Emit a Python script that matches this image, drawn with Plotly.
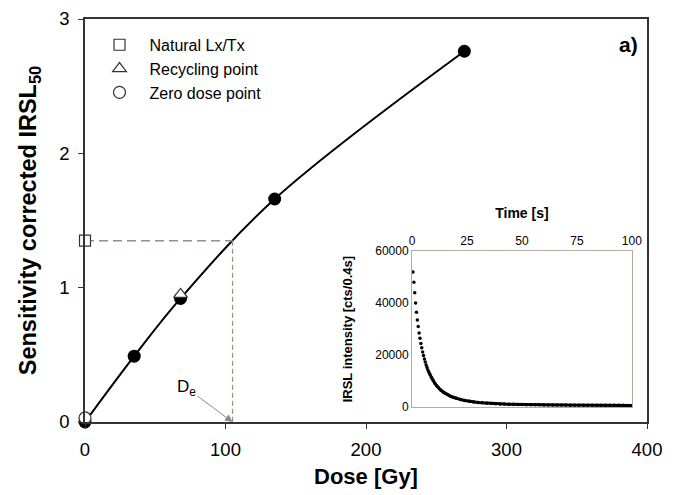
import plotly.graph_objects as go

# Dose-response (regenerated points)
dose_gy = [0, 35, 68, 135, 270]
lxtx = [0.0, 0.49, 0.92, 1.66, 2.76]

natural_dose = [0]
natural_lxtx = [1.35]
recycling_dose = [68]
recycling_lxtx = [0.95]
zero_dose = [0]
zero_lxtx = [0.03]
de_value = 105

# IRSL decay curve (inset)
time_s = [0.4, 0.8, 1.2, 1.6, 2.0, 2.4, 2.8, 3.2, 3.6, 4.0, 4.4, 4.8, 5.2, 5.6, 6.0, 6.4, 6.8,
          7.2, 7.6, 8.0, 8.8, 9.6, 10.4, 11.2, 12, 13, 14, 15, 16, 17, 18, 19, 20, 22, 24, 26,
          28, 30, 32, 34, 36, 38, 40, 42, 44, 46, 48, 50, 52, 54, 56, 58, 60, 62, 64, 66, 68,
          70, 72, 74, 76, 78, 80, 82, 84, 86, 88, 90, 92, 94, 96, 98, 100]
irsl_cts = [52000, 48000, 44000, 40000, 36500, 33500, 31000, 28500, 26500, 24500, 22800, 21200,
            19800, 18500, 17300, 16200, 15200, 14300, 13500, 12700, 11300, 10100, 9100, 8200,
            7400, 6600, 5900, 5300, 4800, 4400, 4000, 3700, 3400, 2900, 2550, 2250, 2000, 1800,
            1650, 1500, 1400, 1300, 1220, 1150, 1100, 1050, 1010, 970, 940, 910, 885, 860, 840,
            820, 805, 790, 775, 760, 750, 740, 730, 720, 710, 700, 695, 690, 685, 680, 675, 670,
            665, 660, 655]

x_ticks = [0, 100, 200, 300, 400]
y_ticks = [0, 1, 2, 3]
inset_x_ticks = [0, 25, 50, 75, 100]
inset_y_ticks = [0, 20000, 40000, 60000]
inset_y_labels = ["0", "20000", "40000", "60000"]

FONT = "Liberation Sans, Arial, sans-serif"
dash_col = "#9c8c84"
inset_col = "#b3aaa3"

fig = go.Figure()

# fitted curve through regenerated points
fig.add_trace(go.Scatter(x=dose_gy, y=lxtx, mode="lines", line=dict(color="black", width=2, shape="spline"),
                         showlegend=False, hoverinfo="skip", cliponaxis=False))
# De construction lines
fig.add_trace(go.Scatter(x=[natural_dose[0], de_value], y=[natural_lxtx[0], natural_lxtx[0]],
                         mode="lines", line=dict(color=dash_col, width=1.5, dash="9px,5px"),
                         showlegend=False, hoverinfo="skip"))
fig.add_trace(go.Scatter(x=[de_value, de_value], y=[natural_lxtx[0], 0],
                         mode="lines", line=dict(color=dash_col, width=1.2, dash="5px,3px"),
                         showlegend=False, hoverinfo="skip"))
fig.add_trace(go.Scatter(x=dose_gy, y=lxtx, mode="markers",
                         marker=dict(color="black", size=13, symbol="circle"),
                         showlegend=False, cliponaxis=False))
fig.add_trace(go.Scatter(x=natural_dose, y=natural_lxtx, mode="markers", name="Natural Lx/Tx",
                         marker=dict(color="white", size=11, symbol="square",
                                     line=dict(color="#333333", width=1.2)), cliponaxis=False))
fig.add_trace(go.Scatter(x=recycling_dose, y=recycling_lxtx, mode="markers", name="Recycling point",
                         marker=dict(color="white", size=12, symbol="triangle-up",
                                     line=dict(color="#333333", width=1.2)), cliponaxis=False))
fig.add_trace(go.Scatter(x=zero_dose, y=zero_lxtx, mode="markers", name="Zero dose point",
                         marker=dict(color="white", size=12, symbol="circle",
                                     line=dict(color="#333333", width=1.2)), cliponaxis=False))

# inset
n_early = 20
fig.add_trace(go.Scatter(x=time_s[n_early - 1:], y=irsl_cts[n_early - 1:], mode="lines",
                         line=dict(color="black", width=3), xaxis="x2", yaxis="y2",
                         showlegend=False, hoverinfo="skip"))
fig.add_trace(go.Scatter(x=time_s, y=irsl_cts, mode="markers",
                         marker=dict(color="black", size=3.5), xaxis="x2", yaxis="y2",
                         showlegend=False))

fig.update_layout(
    width=678, height=495,
    margin=dict(l=77, r=39, t=11, b=81, autoexpand=False),
    paper_bgcolor="white", plot_bgcolor="white",
    font=dict(family=FONT, color="black"),
    xaxis=dict(range=[0, 400], tickvals=x_ticks, ticks="outside", ticklen=5, tickcolor="#333",
               showline=True, linecolor="#333", linewidth=1.5, mirror=True, showgrid=False,
               zeroline=False, tickfont=dict(size=18.5), automargin=False, ticklabelstandoff=5,
               title=dict(text="<b>Dose [Gy]</b>", font=dict(size=22), standoff=10)),
    yaxis=dict(range=[0, 3], tickvals=y_ticks, ticks="outside", ticklen=5, tickcolor="#333",
               showline=True, linecolor="#333", linewidth=1.5, mirror=True, showgrid=False,
               zeroline=False, tickfont=dict(size=18.5), automargin=False, ticklabelstandoff=5,
               title=dict(text="<b>Sensitivity corrected IRSL<sub>50</sub></b>", font=dict(size=23.5),
                          standoff=16)),
    xaxis2=dict(domain=[0.582, 0.973], anchor="y2", side="top", range=[0, 100],
                tickvals=inset_x_ticks, ticks="", showline=True, linecolor=inset_col, linewidth=1.2,
                mirror=True, showgrid=False, zeroline=False, tickfont=dict(size=12), automargin=False,
                title=dict(text="<b>Time [s]</b>", font=dict(size=14), standoff=12)),
    yaxis2=dict(domain=[0.037, 0.424], anchor="x2", range=[0, 60000], tickvals=inset_y_ticks,
                ticktext=inset_y_labels, ticks="", showline=True, linecolor=inset_col, linewidth=1.2,
                mirror=True, showgrid=False, zeroline=False, tickfont=dict(size=12), automargin=False,
                title=dict(text="<b>IRSL intensity [cts/0.4s]</b>", font=dict(size=13), standoff=19)),
    legend=dict(x=0.008, y=0.978, xanchor="left", yanchor="top", bgcolor="rgba(0,0,0,0)",
                font=dict(size=16), itemsizing="trace", itemwidth=50, tracegroupgap=0),
    annotations=[
        dict(text="<b>a)</b>", x=0.987, y=0.97, xref="paper", yref="paper", xanchor="right",
             yanchor="top", showarrow=False, font=dict(size=21)),
        dict(text="D<sub>e</sub>", x=de_value, y=0, xref="x", yref="y", ax=-46, ay=-34,
             showarrow=True, arrowhead=2, arrowsize=1.5, arrowwidth=1, arrowcolor="#8a8a8a",
             font=dict(size=17), standoff=0),
    ],
)

fig.write_html("out.html")
